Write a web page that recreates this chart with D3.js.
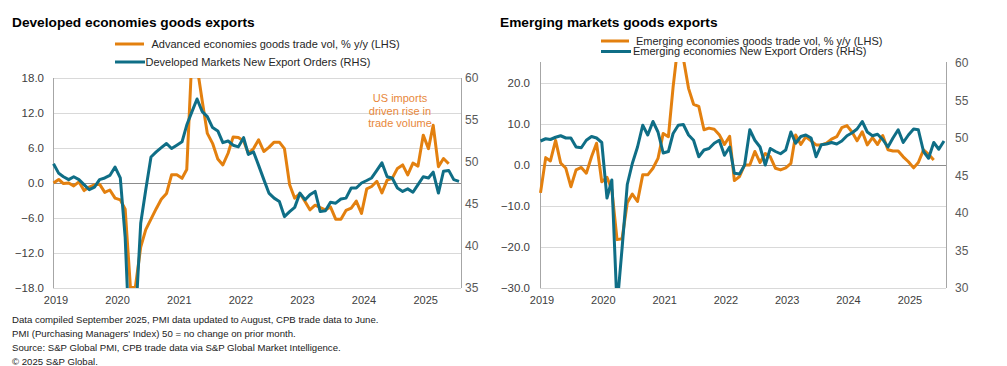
<!DOCTYPE html>
<html><head><meta charset="utf-8">
<script src="https://cdn.jsdelivr.net/npm/d3@7"></script>
<style>body{margin:0;background:#fff}svg{display:block;font-family:"Liberation Sans",Arial,sans-serif}</style>
</head><body><svg id="c" width="1007" height="366"></svg>
<script>
// ---------- DATA ----------
const months = d3.range(80).map(i => new Date(2019, i, 1)); // Jan 2019 .. Aug 2025
const yearTicks = [2019, 2020, 2021, 2022, 2023, 2024, 2025];

// Developed: Advanced economies goods trade vol, % y/y (LHS), Jan 2019 - Jun 2025
const dmTradeVol = [0.0,0.6,-0.1,0.0,-0.5,0.2,-1.3,-0.7,-0.3,-0.2,-1.6,-1.2,
  -2.6,-2.9,-4.5,-17.9,-17.7,-11.0,-8.0,-6.2,-4.4,-2.8,-1.8,1.4,
  1.4,0.8,2.3,22.0,20.0,14.0,8.5,6.8,4.1,3.1,5.1,7.9,
  7.8,7.2,5.1,5.9,7.4,5.4,6.1,7.0,7.0,5.9,-0.3,-2.6,
  -1.8,-3.2,-4.6,-3.8,-4.2,-4.6,-4.1,-6.2,-6.2,-4.7,-4.3,-3.1,
  -5.2,-1.0,-0.6,0.3,-1.7,0.5,0.8,2.5,3.1,1.4,3.4,2.9,
  8.2,5.9,9.9,2.8,4.2,3.3];
// Developed Markets New Export Orders (RHS), Jan 2019 - Aug 2025
const dmExportOrders = [49.8,48.65,48.25,47.9,48.25,47.9,47.3,46.7,47.0,47.9,48.1,48.4,
  49.4,48.1,41.0,26.0,31.0,42.7,46.7,50.6,51.2,51.7,52.2,51.6,
  52.0,52.4,54.4,56.0,57.5,56.0,55.4,54.1,53.7,52.3,52.5,52.0,
  51.8,52.9,50.9,51.2,49.6,47.9,46.3,45.7,45.3,43.5,44.1,44.6,
  46.3,45.5,46.1,46.5,44.1,44.2,45.2,45.1,45.6,45.7,46.9,46.9,
  47.5,47.8,48.1,49.0,49.9,48.25,48.1,46.9,46.5,46.8,46.4,47.3,
  48.25,48.1,48.8,46.3,48.9,49.0,47.9,47.7];

// Emerging: Emerging economies goods trade vol, % y/y (LHS), Jan 2019 - Jun 2025
const emTradeVol = [-6.8,1.8,1.0,6.0,0.5,-0.8,-5.3,-1.2,-0.6,-2.0,2.0,5.3,
  -4.1,-3.0,-6.0,-18.2,-18.0,-9.2,-7.1,-8.9,-2.4,-2.4,-0.8,1.6,
  7.7,6.9,19.0,30.0,26.0,18.7,14.8,14.3,8.6,9.0,8.7,7.4,
  5.0,7.0,-3.8,-2.8,0.0,0.0,3.3,0.6,2.8,2.0,-0.8,-1.2,
  -0.7,0.4,7.3,5.0,6.9,5.9,4.9,4.9,5.3,6.3,6.9,9.1,
  9.6,8.0,5.9,8.1,4.9,6.7,5.0,7.2,3.7,3.4,3.4,2.0,
  0.8,-0.7,0.6,3.7,2.6,1.2];
// Emerging economies New Export Orders (RHS), Jan 2019 - Aug 2025
const emExportOrders = [49.6,49.9,49.8,50.1,50.3,50.0,50.0,48.8,48.7,49.7,50.2,50.0,
  49.4,42.0,44.4,27.5,35.3,43.8,46.6,48.8,51.7,50.4,52.2,50.8,
  48.0,48.2,50.6,51.7,51.8,50.4,49.7,47.5,48.4,48.6,49.3,49.7,
  47.7,48.8,45.3,45.2,46.4,51.1,49.7,48.8,46.4,48.6,48.2,47.9,
  48.4,50.8,49.3,50.2,50.4,50.0,47.5,49.1,49.2,49.4,49.2,49.6,
  50.3,50.7,51.2,52.2,50.8,50.3,50.5,49.8,48.8,50.0,51.1,49.4,
  50.4,51.2,51.1,48.2,47.3,49.4,48.5,49.6];

const dmLeftTicks = [-18, -12, -6, 0, 6, 12, 18];
const dmRightTicks = [35, 40, 45, 50, 55, 60];
const emLeftTicks = [-30, -20, -10, 0, 10, 20];
const emRightTicks = [30, 35, 40, 45, 50, 55, 60];

const footnotes = [
  "Data compiled September 2025, PMI data updated to August, CPB trade data to June.",
  "PMI (Purchasing Managers' Index) 50 = no change on prior month.",
  "Source: S&P Global PMI, CPB trade data via S&P Global Market Intelligence.",
  "\u00A9 2025 S&P Global."
];

// ---------- STYLE ----------
const ORANGE = "#E3800F", TEAL = "#0F6E86", ANNOT = "#E8873A";
const svg = d3.select("#c");
svg.append("rect").attr("width", 1007).attr("height", 366).attr("fill", "#fff");

function drawChart(cfg) {
  const g = svg.append("g");
  const x = d3.scaleTime().domain([months[0], months[79]]).range([cfg.x0, cfg.x1]);
  const yL = d3.scaleLinear().domain(cfg.lDomain).range([cfg.bottom, cfg.lTop]);
  const yR = d3.scaleLinear().domain(cfg.rDomain).range([cfg.bottom, cfg.rTop]);

  // gridlines
  g.selectAll("line.grid").data(cfg.lTicks.filter(d => d !== 0)).join("line")
    .attr("x1", cfg.axL).attr("x2", cfg.axR)
    .attr("y1", d => Math.round(yL(d)) + 0.5).attr("y2", d => Math.round(yL(d)) + 0.5)
    .attr("stroke", "#d9d9d9").attr("stroke-width", 1);
  g.append("line").attr("x1", cfg.axL).attr("x2", cfg.axR)
    .attr("y1", Math.round(yL(0)) + 0.5).attr("y2", Math.round(yL(0)) + 0.5)
    .attr("stroke", "#8c8c8c").attr("stroke-width", 1);
  // vertical axis lines
  [cfg.axL, cfg.axR].forEach(ax => g.append("line")
    .attr("x1", ax + 0.5).attr("x2", ax + 0.5).attr("y1", cfg.axTop).attr("y2", cfg.bottom)
    .attr("stroke", "#a6a6a6").attr("stroke-width", 1));

  // left axis labels
  const la = g.append("g").attr("transform", `translate(${cfg.lLabelX},0)`)
    .call(d3.axisLeft(yL).tickValues(cfg.lTicks).tickSize(0).tickPadding(0).tickFormat(d3.format(".1f")));
  la.select(".domain").remove();
  la.selectAll("text").attr("font-size", 11.5).attr("fill", "#404040")
    .attr("font-family", '"Liberation Sans",Arial,sans-serif');
  // right axis labels
  const ra = g.append("g").attr("transform", `translate(${cfg.rLabelX},0)`)
    .call(d3.axisRight(yR).tickValues(cfg.rTicks).tickSize(0).tickPadding(0).tickFormat(d3.format("d")));
  ra.select(".domain").remove();
  ra.selectAll("text").attr("font-size", 12).attr("fill", "#595959")
    .attr("font-family", '"Liberation Sans",Arial,sans-serif');
  // x axis labels
  const xa = g.append("g").attr("transform", `translate(${cfg.xLabelShift},${cfg.bottom})`)
    .call(d3.axisBottom(x).tickValues(yearTicks.map(yr => new Date(yr, 0, 1)))
      .tickSize(0).tickPadding(8).tickFormat(d3.timeFormat("%Y")));
  xa.select(".domain").remove();
  xa.selectAll("text").attr("font-size", 11).attr("fill", "#404040")
    .attr("font-family", '"Liberation Sans",Arial,sans-serif');

  // clip
  const cid = "clip" + cfg.id;
  svg.append("clipPath").attr("id", cid).append("rect")
    .attr("x", cfg.axL - 2).attr("y", cfg.axTop).attr("width", cfg.axR - cfg.axL + 4)
    .attr("height", cfg.bottom - cfg.axTop);
  const plot = g.append("g").attr("clip-path", `url(#${cid})`);
  const lineL = d3.line().x((d, i) => x(months[i])).y(d => yL(d));
  const lineR = d3.line().x((d, i) => x(months[i])).y(d => yR(d));
  plot.append("path").datum(cfg.trade).attr("d", lineL).attr("fill", "none")
    .attr("stroke", ORANGE).attr("stroke-width", 3).attr("stroke-linejoin", "round");
  plot.append("path").datum(cfg.orders).attr("d", lineR).attr("fill", "none")
    .attr("stroke", TEAL).attr("stroke-width", 3).attr("stroke-linejoin", "round");

  // title
  svg.append("text").attr("x", cfg.titleX).attr("y", 26.5).text(cfg.title)
    .attr("font-size", 13.7).attr("font-weight", "bold").attr("fill", "#000");
  // legend
  cfg.legend.forEach(l => {
    svg.append("line").attr("x1", l.sx0).attr("x2", l.sx1).attr("y1", l.y).attr("y2", l.y)
      .attr("stroke", l.color).attr("stroke-width", 3);
    svg.append("text").attr("x", l.tx).attr("y", l.y).attr("dy", "0.35em").text(l.text)
      .attr("font-size", 11).attr("fill", "#262626");
  });
}

drawChart({
  id: "dm", title: "Developed economies goods exports", titleX: 12,
  x0: 53.5, x1: 459, axL: 53, axR: 461, axTop: 78, bottom: 288,
  lDomain: [-18, 18], lTop: 78, rDomain: [35, 60], rTop: 78,
  lTicks: dmLeftTicks, rTicks: dmRightTicks, lLabelX: 44, rLabelX: 465, xLabelShift: 2,
  trade: dmTradeVol, orders: dmExportOrders,
  legend: [
    {sx0: 115, sx1: 144, y: 44, tx: 151.5, color: ORANGE, text: "Advanced economies goods trade vol, % y/y (LHS)"},
    {sx0: 115, sx1: 145, y: 62, tx: 145.5, color: TEAL, text: "Developed Markets New Export Orders (RHS)"}
  ]
});
drawChart({
  id: "em", title: "Emerging markets goods exports", titleX: 500,
  x0: 540.5, x1: 944, axL: 540, axR: 946, axTop: 62, bottom: 288,
  lDomain: [-30, 25], lTop: 62.5, rDomain: [30, 60], rTop: 63,
  lTicks: emLeftTicks, rTicks: emRightTicks, lLabelX: 530, rLabelX: 955, xLabelShift: 1,
  trade: emTradeVol, orders: emExportOrders,
  legend: [
    {sx0: 601, sx1: 629, y: 41, tx: 636, color: ORANGE, text: "Emerging economies goods trade vol, % y/y (LHS)"},
    {sx0: 601, sx1: 631, y: 51.5, tx: 633, color: TEAL, text: "Emerging economies New Export Orders (RHS)"}
  ]
});

// annotation
const ann = svg.append("text").attr("text-anchor", "middle").attr("font-size", 11).attr("fill", ANNOT);
["US imports", "driven rise in", "trade volume"].forEach((t, i) =>
  ann.append("tspan").attr("x", 400).attr("y", 98.5 + i * 12.2).attr("dy", "0.35em").text(t));

// footnotes
svg.append("g").selectAll("text").data(footnotes).join("text")
  .attr("x", 12).attr("y", (d, i) => 322.5 + i * 14).text(d => d)
  .attr("font-size", 9.6).attr("fill", "#1a1a1a");
</script></body></html>
